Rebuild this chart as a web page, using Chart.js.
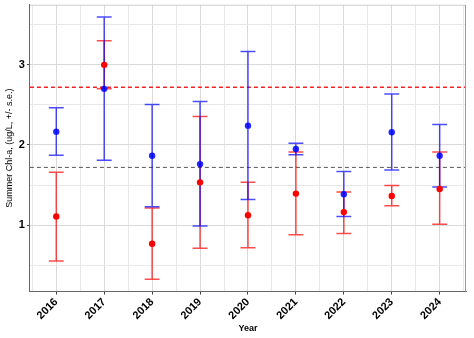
<!DOCTYPE html>
<html>
<head>
<meta charset="utf-8">
<script src="https://cdn.jsdelivr.net/npm/chart.js@4/dist/chart.umd.min.js"></script>
<style>
  html, body { margin: 0; padding: 0; background: #fff; }
  canvas { display: block; }
</style>
</head>
<body>
<canvas id="chl" width="474" height="338"></canvas>
<script>
'use strict';

/* ─── Data ──────────────────────────────────────────────────── */
const years     = [2016, 2017, 2018, 2019, 2020, 2021, 2022, 2023, 2024];
const redMean   = [1.107, 3.00, 0.767, 1.533, 1.122, 1.393, 1.162, 1.363, 1.450];
const redLow    = [0.550, 2.70, 0.325, 0.710, 0.716, 0.878, 0.895, 1.240, 1.010];
const redHigh   = [1.660, 3.30, 1.213, 2.354, 1.533, 1.912, 1.414, 1.494, 1.912];
const blueMean  = [2.166, 2.70, 1.865, 1.761, 2.241, 1.949, 1.385, 2.158, 1.865];
const blueLow   = [1.870, 1.81, 1.230, 0.987, 1.318, 1.878, 1.107, 1.686, 1.476];
const blueHigh  = [2.463, 3.596, 2.505, 2.543, 3.166, 2.020, 1.670, 2.635, 2.254];
const redRef    = 2.72;
const blueRef   = 1.72;
const xTicks    = [2015.5, 2016, 2016.5, 2017, 2017.5, 2018, 2018.5, 2019, 2019.5, 2020,
                   2020.5, 2021, 2021.5, 2022, 2022.5, 2023, 2023.5, 2024, 2024.5];
const yTicks    = [0.5, 1, 1.5, 2, 2.5, 3, 3.5];

const X_MIN = 2015.45, X_MAX = 2024.55;
const Y_MIN = 0.17,    Y_MAX = 3.75;
const CAP = 0.155;

/* ─── Helpers ───────────────────────────────────────────────── */
function errorBarPoints(lo, hi) {
  const pts = [];
  years.forEach((yr, i) => {
    pts.push({ x: yr, y: lo[i] }, { x: yr, y: hi[i] }, { x: yr, y: null });
    pts.push({ x: yr - CAP, y: hi[i] }, { x: yr + CAP, y: hi[i] }, { x: yr, y: null });
    pts.push({ x: yr - CAP, y: lo[i] }, { x: yr + CAP, y: lo[i] }, { x: yr, y: null });
  });
  return pts;
}
const pointsOf = vals => years.map((yr, i) => ({ x: yr, y: vals[i] }));
const isMajor  = v => Math.abs(v - Math.round(v)) < 1e-6;

// top + right panel edges
const panelEdge = {
  id: 'panelEdge',
  afterDraw(chart) {
    const { ctx, chartArea: a } = chart;
    ctx.save();
    ctx.lineWidth = 1;
    ctx.strokeStyle = '#cfcfcf';
    ctx.beginPath(); ctx.moveTo(a.left, a.top + 0.5); ctx.lineTo(a.right, a.top + 0.5); ctx.stroke();
    ctx.strokeStyle = '#9a9a9a';
    ctx.beginPath(); ctx.moveTo(a.right - 0.5, a.top); ctx.lineTo(a.right - 0.5, a.bottom); ctx.stroke();
    ctx.restore();
  }
};

const lineSet = (data, color, width, order, dash) => ({
  data, showLine: true, spanGaps: false, borderColor: color, borderWidth: width,
  borderDash: dash || [], pointRadius: 0, pointHoverRadius: 0, order
});
const dotSet = (data, color, order) => ({
  data, showLine: false, backgroundColor: color, borderWidth: 0,
  pointRadius: 3.2, pointHoverRadius: 3.2, order
});

/* ─── Chart ─────────────────────────────────────────────────── */
new Chart(document.getElementById('chl'), {
  type: 'scatter',
  data: {
    datasets: [
      lineSet([{ x: X_MIN, y: redRef }, { x: X_MAX, y: redRef }], 'rgb(240,35,35)', 1.5, 6, [4, 3]),
      lineSet([{ x: X_MIN, y: blueRef }, { x: X_MAX, y: blueRef }], '#555555', 1, 5, [4, 3]),
      lineSet(errorBarPoints(redLow, redHigh), 'rgba(255,0,0,0.7)', 1.5, 4),
      lineSet(errorBarPoints(blueLow, blueHigh), 'rgba(0,0,255,0.7)', 1.5, 3),
      dotSet(pointsOf(redMean), '#ff0000', 2),
      dotSet(pointsOf(blueMean), 'rgba(0,0,255,0.85)', 1)
    ]
  },
  options: {
    responsive: false,
    animation: false,
    events: [],
    layout: { padding: { top: 1, right: 7, left: 3, bottom: 4 } },
    plugins: { legend: { display: false }, tooltip: { enabled: false } },
    scales: {
      x: {
        type: 'linear', min: X_MIN, max: X_MAX,
        afterBuildTicks: s => { s.ticks = xTicks.map(v => ({ value: v })); },
        grid: {
          color: c => isMajor(c.tick.value) ? '#d9d9d9' : '#e8e8e8',
          tickColor: c => isMajor(c.tick.value) ? '#444' : 'rgba(0,0,0,0)',
          tickLength: 3
        },
        border: { display: true, color: '#666', width: 1 },
        ticks: {
          autoSkip: false, minRotation: 45, maxRotation: 45, padding: 1,
          color: '#000', font: { family: 'Liberation Sans, Arial', size: 11, weight: 'bold' },
          callback: v => isMajor(v) ? String(Math.round(v)) : ''
        },
        title: {
          display: true, text: 'Year', color: '#000', padding: { top: 0, bottom: 0 },
          font: { family: 'Liberation Sans, Arial', size: 9, weight: 'bold' }
        }
      },
      y: {
        type: 'linear', min: Y_MIN, max: Y_MAX,
        afterBuildTicks: s => { s.ticks = yTicks.map(v => ({ value: v })); },
        grid: {
          color: c => isMajor(c.tick.value) ? '#d9d9d9' : '#e8e8e8',
          tickColor: c => isMajor(c.tick.value) ? '#444' : 'rgba(0,0,0,0)',
          tickLength: 3
        },
        border: { display: true, color: '#666', width: 1 },
        ticks: {
          padding: 2, color: '#000',
          font: { family: 'Liberation Sans, Arial', size: 11, weight: 'bold', lineHeight: 0.5 },
          callback: v => isMajor(v) ? String(Math.round(v)) : ''
        },
        title: {
          display: true, text: 'Summer Chl-a, (ug/L, +/- s.e.)', color: '#000',
          padding: { top: 1, bottom: 2 },
          font: { family: 'Liberation Sans, Arial', size: 9 }
        }
      }
    }
  },
  plugins: [panelEdge]
});
</script>
</body>
</html>
